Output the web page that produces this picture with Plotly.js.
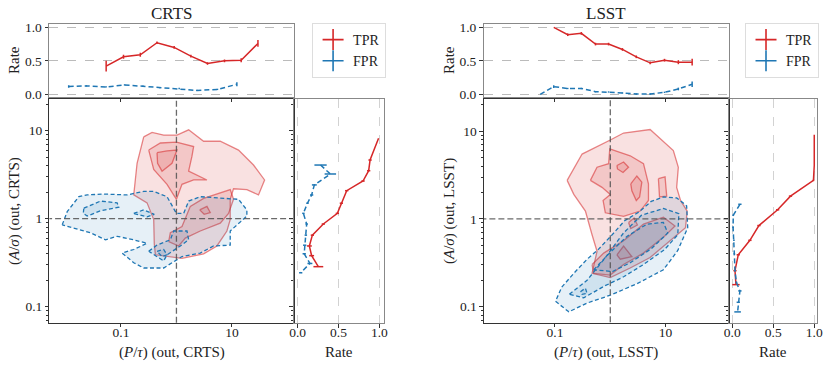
<!DOCTYPE html>
<html>
<head>
<meta charset="utf-8">
<script src="https://cdn.plot.ly/plotly-3.0.1.min.js"></script>
<style>
  body { margin: 0; background: #fff; }
  #chart { width: 830px; height: 368px; }
</style>
</head>
<body>
<div id="chart"></div>
<script>
// ---- rate strips (CRTS) ----
const crtsTopTprX = [0.054, 0.111, 0.223, 0.446, 0.91, 1.82, 3.63, 7.36, 14.7, 29.5];
const crtsTopTpr = [0.42, 0.56, 0.59, 0.77, 0.70, 0.57, 0.46, 0.50, 0.51, 0.76];
const crtsTopTprErr = [0.08, 0.03, 0.03, 0.02, 0.02, 0.02, 0.02, 0.02, 0.03, 0.05];
const crtsTopFprX = [0.0114, 0.0237, 0.054, 0.116, 0.249, 0.50, 1.12, 2.34, 5.5, 12.3];
const crtsTopFpr = [0.117, 0.126, 0.11, 0.14, 0.12, 0.10, 0.087, 0.058, 0.073, 0.15];
const crtsTopFprErr = [0.02, 0.01, 0.01, 0.01, 0.01, 0.01, 0.01, 0.01, 0.01, 0.03];

const crtsSideTprY = [8.2, 4.64, 3.51, 2.68, 2.08, 1.50, 1.15, 0.87, 0.65, 0.49, 0.38, 0.285];
const crtsSideTpr = [0.99, 0.886, 0.869, 0.80, 0.60, 0.535, 0.486, 0.314, 0.18, 0.143, 0.171, 0.253];
const crtsSideTprErr = [0.0, 0.02, 0.02, 0.02, 0.02, 0.02, 0.02, 0.02, 0.02, 0.03, 0.03, 0.06];
const crtsSideFprY = [4.07, 3.22, 2.42, 1.86, 1.50, 1.15, 0.87, 0.65, 0.50, 0.40, 0.31, 0.243];
const crtsSideFpr = [0.28, 0.40, 0.204, 0.171, 0.12, 0.07, 0.11, 0.10, 0.086, 0.08, 0.15, 0.037];
const crtsSideFprErr = [0.075, 0.07, 0.03, 0.02, 0.015, 0.015, 0.015, 0.015, 0.02, 0.02, 0.03, 0.02];

// ---- rate strips (LSST) ----
const lsstTopTprX = [0.095, 0.17, 0.30, 0.54, 0.93, 1.66, 2.95, 5.25, 9.55, 17.0, 30.2];
const lsstTopTpr = [1.0, 0.89, 0.91, 0.75, 0.75, 0.67, 0.56, 0.47, 0.51, 0.48, 0.48];
const lsstTopTprErr = [0.0, 0.02, 0.02, 0.02, 0.02, 0.02, 0.02, 0.02, 0.02, 0.03, 0.05];
const lsstTopFprX = [0.054, 0.095, 0.17, 0.30, 0.54, 0.93, 1.66, 2.95, 5.25, 9.55, 17.0, 30.2];
const lsstTopFpr = [0.0, 0.115, 0.087, 0.087, 0.04, 0.035, 0.02, 0.005, 0.005, 0.03, 0.08, 0.15];
const lsstTopFprErr = [0.0, 0.02, 0.01, 0.01, 0.01, 0.01, 0.01, 0.01, 0.01, 0.01, 0.02, 0.04];

const lsstSideTprY = [9.12, 6.03, 4.07, 2.75, 1.82, 1.27, 0.84, 0.57, 0.39, 0.257, 0.178];
const lsstSideTpr = [1.0, 1.0, 1.0, 0.99, 0.71, 0.553, 0.325, 0.215, 0.073, 0.033, 0.045];
const lsstSideTprErr = [0, 0, 0, 0.01, 0.02, 0.02, 0.02, 0.02, 0.02, 0.02, 0.045];
const lsstSideFprY = [1.47, 1.10, 0.805, 0.57, 0.40, 0.257, 0.19, 0.151, 0.112, 0.087];
const lsstSideFpr = [0.093, 0.012, 0.01, 0.02, 0.025, 0.033, 0.05, 0.093, 0.073, 0.065];
const lsstSideFprErr = [0.02, 0.01, 0.01, 0.01, 0.01, 0.01, 0.01, 0.02, 0.02, 0.04];

// ---- density contours, vertices as [log10(P/tau), log10(A/sigma)] ----
const crtsTprOuter = [[-0.59,0.93],[-0.44,0.98],[-0.23,0.95],[0.01,0.95],[0.22,1.01],[0.49,0.88],[0.79,0.88],[1.12,0.78],[1.39,0.61],[1.59,0.44],[1.48,0.27],[1.27,0.33],[1.03,0.34],[0.97,0.22],[0.97,-0.01],[0.91,-0.14],[0.73,-0.31],[0.49,-0.40],[0.10,-0.45],[-0.17,-0.43],[-0.38,-0.41],[-0.40,-0.28],[-0.41,-0.01],[-0.53,0.18],[-0.77,0.27],[-0.71,0.63]];
const crtsTprMidA = [[-0.50,0.78],[-0.29,0.86],[0.0,0.87],[0.31,0.82],[0.28,0.71],[0.22,0.54],[0.55,0.44],[0.31,0.44],[0.10,0.39],[0.0,0.22],[-0.17,0.39],[-0.41,0.56]];
const crtsTprMidB = [[-0.14,-0.26],[-0.11,-0.16],[0.10,-0.09],[0.25,0.14],[0.49,0.23],[0.97,0.33],[1.03,0.22],[0.94,0.06],[0.79,-0.05],[0.43,-0.14],[0.16,-0.22],[0.04,-0.31]];
const crtsTprInA = [[-0.35,0.75],[-0.17,0.77],[0.01,0.78],[-0.08,0.63],[-0.26,0.54],[-0.34,0.63]];
const crtsTprInB = [[0.42,0.10],[0.55,0.14],[0.61,0.07],[0.50,0.05]];
const crtsFprOuter = [[-2.06,-0.07],[-1.97,0.08],[-1.76,0.25],[-1.61,0.27],[-1.31,0.28],[-0.89,0.27],[-0.59,0.31],[-0.41,0.31],[-0.17,0.25],[0.0,0.06],[0.13,0.06],[0.22,0.20],[0.43,0.25],[1.12,0.22],[1.27,0.10],[1.27,0.03],[0.97,-0.14],[0.97,-0.30],[0.67,-0.31],[0.43,-0.39],[0.10,-0.43],[-0.23,-0.56],[-0.59,-0.56],[-0.77,-0.50],[-0.98,-0.39],[-0.77,-0.35],[-0.53,-0.28],[-0.77,-0.24],[-1.07,-0.20],[-1.28,-0.24],[-1.55,-0.16],[-1.85,-0.11]];
const crtsFprMidA = [[-1.67,0.12],[-1.37,0.20],[-1.07,0.18],[-1.04,0.13],[-1.37,0.09],[-1.61,0.03],[-1.68,0.06]];
const crtsFprMidB = [[-0.77,0.06],[-0.59,0.10],[-0.40,0.05],[-0.53,0.02]];
const crtsFprMidC = [[-0.50,-0.37],[-0.35,-0.30],[-0.11,-0.24],[-0.05,-0.14],[0.19,-0.14],[0.22,-0.24],[0.07,-0.31],[-0.17,-0.41],[-0.23,-0.48],[-0.35,-0.43]];
const crtsFprIn = [[-0.35,-0.37],[-0.23,-0.35],[-0.17,-0.41],[-0.26,-0.43]];

const lsstTprOuter = [[-0.78,0.44],[-0.51,0.74],[0.0,0.90],[0.24,0.98],[0.72,1.02],[1.14,0.78],[1.23,0.59],[1.20,0.36],[1.27,0.21],[1.39,0.09],[1.36,-0.10],[1.08,-0.25],[0.72,-0.44],[0.36,-0.56],[0.0,-0.67],[-0.33,-0.62],[-0.24,-0.37],[-0.33,-0.18],[-0.45,0.09],[-0.66,0.28]];
const lsstTprMidA = [[-0.36,0.44],[-0.24,0.59],[-0.03,0.63],[-0.01,0.80],[0.36,0.72],[0.60,0.63],[0.69,0.40],[0.69,0.21],[0.54,0.09],[0.24,0.03],[-0.09,0.07],[-0.13,0.21],[0.0,0.28],[-0.15,0.36]];
const lsstTprMidB = [[0.87,0.46],[0.99,0.48],[1.02,0.26],[0.89,0.25]];
const lsstTprMidC = [[-0.33,-0.52],[-0.12,-0.39],[0.24,-0.25],[0.60,-0.06],[0.96,0.02],[1.17,-0.08],[0.96,-0.21],[0.60,-0.39],[0.24,-0.52],[0.0,-0.64],[-0.30,-0.62]];
const lsstTprInA = [[0.12,0.61],[0.24,0.65],[0.33,0.59],[0.23,0.53],[0.13,0.57]];
const lsstTprInB = [[0.37,0.40],[0.48,0.49],[0.57,0.42],[0.53,0.25],[0.47,0.21],[0.39,0.32]];
const lsstTprInC = [[0.33,-0.04],[0.43,0.01],[0.49,-0.07],[0.37,-0.11]];
const lsstTprInD = [[0.12,-0.41],[0.24,-0.31],[0.39,-0.43],[0.18,-0.46]];
const lsstFprOuter = [[-0.99,-0.94],[-0.75,-1.06],[-0.42,-0.96],[0.0,-0.87],[0.48,-0.74],[0.96,-0.58],[1.22,-0.36],[1.40,-0.10],[1.38,0.15],[1.20,0.24],[0.96,0.25],[0.74,0.20],[0.52,0.08],[0.26,-0.02],[0.02,-0.19],[-0.22,-0.35],[-0.42,-0.46],[-0.66,-0.62],[-0.88,-0.78]];
const lsstFprMid = [[-0.74,-0.86],[-0.42,-0.70],[-0.10,-0.45],[0.24,-0.16],[0.56,0.04],[0.96,0.12],[1.24,0.06],[1.22,-0.18],[0.98,-0.35],[0.60,-0.52],[0.24,-0.66],[-0.12,-0.77],[-0.48,-0.90]];
const lsstFprInA = [[-0.30,-0.58],[0.0,-0.38],[0.30,-0.20],[0.66,-0.06],[0.96,-0.04],[1.04,-0.16],[0.74,-0.34],[0.36,-0.50],[0.04,-0.60]];
const lsstFprInB = [[-0.54,-0.83],[-0.45,-0.79],[-0.42,-0.85],[-0.51,-0.86]];

const rateTicks = [0, 0.5, 1];
const rateTickText = ['0.0', '0.5', '1.0'];
const mainXTicks = [0.1, 10];
const mainYTicks = [0.1, 1, 10];
const mainYMinor = [0.07, 0.08, 0.09, 0.2, 0.3, 0.4, 0.5, 0.6, 0.7, 0.8, 0.9, 2, 3, 4, 5, 6, 7, 8, 9, 20];

const RED = '#d62728';
const BLUE = '#1f77b4';
const SERIF = 'Liberation Serif, Times New Roman, serif';

function contour(pts, ax, kind) {
    const xs = pts.map(p => Math.pow(10, p[0]));
    const ys = pts.map(p => Math.pow(10, p[1]));
    xs.push(xs[0]);
    ys.push(ys[0]);
    const isTpr = kind === 'tpr';
    return {
        x: xs, y: ys, xaxis: ax[0], yaxis: ax[1],
        type: 'scatter', mode: 'lines', fill: 'toself',
        fillcolor: isTpr ? 'rgba(214,39,40,0.14)' : 'rgba(31,119,180,0.11)',
        line: isTpr
            ? { color: 'rgba(214,39,40,0.55)', width: 1.3 }
            : { color: BLUE, width: 1.3, dash: '4px,2.5px' },
        hoverinfo: 'skip', showlegend: false
    };
}

function topRate(x, y, err, ax, color, dashed) {
    return {
        x: x, y: y, xaxis: ax[0], yaxis: ax[1], type: 'scatter', mode: 'lines',
        line: { color: color, width: 1.5, dash: dashed ? '5px,3px' : 'solid' },
        error_y: { type: 'data', array: err, visible: true, width: 0, thickness: 1.5, color: color },
        showlegend: false
    };
}

function sideRate(x, y, err, ax, color, dashed) {
    return {
        x: x, y: y, xaxis: ax[0], yaxis: ax[1], type: 'scatter', mode: 'lines',
        line: { color: color, width: 1.5, dash: dashed ? '5px,3px' : 'solid' },
        error_x: { type: 'data', array: err, visible: true, width: 0, thickness: 1.5, color: color },
        showlegend: false
    };
}

function refLines(ax) {
    const style = { color: 'rgba(80,80,80,0.85)', width: 1.3, dash: '6px,3px' };
    return [
        { x: [1, 1], y: [0.01, 100], xaxis: ax[0], yaxis: ax[1], mode: 'lines', line: style, showlegend: false, hoverinfo: 'skip' },
        { x: [0.001, 1000], y: [1, 1], xaxis: ax[0], yaxis: ax[1], mode: 'lines', line: style, showlegend: false, hoverinfo: 'skip' }
    ];
}

function legendEntry(name, color, legend) {
    return {
        x: [null], y: [null], type: 'scatter', mode: 'markers', name: name, legend: legend,
        marker: { symbol: 'cross-thin-open', size: 15, color: color, line: { color: color, width: 1.6 } }
    };
}

const data = [];
const L = ['x', 'y'], LT = ['x2', 'y2'], LS = ['x3', 'y3'];
const R = ['x4', 'y4'], RT = ['x5', 'y5'], RS = ['x6', 'y6'];

for (const p of [crtsTprOuter, crtsTprMidA, crtsTprMidB, crtsTprInA, crtsTprInB]) data.push(contour(p, L, 'tpr'));
for (const p of [crtsFprOuter, crtsFprMidA, crtsFprMidB, crtsFprMidC, crtsFprIn]) data.push(contour(p, L, 'fpr'));
data.push(...refLines(L));
data.push(topRate(crtsTopTprX, crtsTopTpr, crtsTopTprErr, LT, RED, false));
data.push(topRate(crtsTopFprX, crtsTopFpr, crtsTopFprErr, LT, BLUE, true));
data.push(sideRate(crtsSideTpr, crtsSideTprY, crtsSideTprErr, LS, RED, false));
data.push(sideRate(crtsSideFpr, crtsSideFprY, crtsSideFprErr, LS, BLUE, true));

for (const p of [lsstTprOuter, lsstTprMidA, lsstTprMidB, lsstTprMidC, lsstTprInA, lsstTprInB, lsstTprInC, lsstTprInD]) data.push(contour(p, R, 'tpr'));
for (const p of [lsstFprOuter, lsstFprMid, lsstFprInA, lsstFprInB]) data.push(contour(p, R, 'fpr'));
data.push(...refLines(R));
data.push(topRate(lsstTopTprX, lsstTopTpr, lsstTopTprErr, RT, RED, false));
data.push(topRate(lsstTopFprX, lsstTopFpr, lsstTopFprErr, RT, BLUE, true));
data.push(sideRate(lsstSideTpr, lsstSideTprY, lsstSideTprErr, RS, RED, false));
data.push(sideRate(lsstSideFpr, lsstSideFprY, lsstSideFprErr, RS, BLUE, true));

data.push(legendEntry('TPR', RED, 'legend'), legendEntry('FPR', BLUE, 'legend'));
data.push(legendEntry('TPR', RED, 'legend2'), legendEntry('FPR', BLUE, 'legend2'));

const tickFont = { family: SERIF, size: 13.5, color: '#222' };
const base = { showgrid: false, zeroline: false, showline: true, ticks: 'outside', ticklen: 3.5, tickcolor: '#333', tickfont: tickFont };
const mainLine = { linecolor: '#333', linewidth: 1, mirror: true };
const stripLine = { linecolor: '#888', linewidth: 1.4, mirror: true };

const mainX = { ...base, ...mainLine, type: 'log', tickvals: mainXTicks, ticktext: ['0.1', '10'], ticklabelstandoff: -7 };
const mainY = {
    ...base, ...mainLine, type: 'log', tickvals: mainYTicks, ticktext: ['0.1', '1', '10'],
    minor: { tickvals: mainYMinor, ticks: 'outside', ticklen: 2, tickcolor: '#333' }
};
const topX = { ...base, ...stripLine, type: 'log', tickvals: mainXTicks, showticklabels: false };
const topY = { ...base, ...stripLine, tickvals: rateTicks, ticktext: rateTickText, showgrid: true, gridcolor: '#aaa', griddash: 'dash', gridwidth: 0.8 };
const sideX = { ...base, ...stripLine, tickvals: rateTicks, ticktext: rateTickText, showgrid: true, gridcolor: '#d2d2d2', griddash: 'dash', gridwidth: 1, ticklabelstandoff: -7 };
const sideY = { ...mainY, ...stripLine, showticklabels: false };

const yMain = [0.1223, 0.7310], yTop = [0.7364, 0.9348];

function label(text, x, y, angle) {
    return {
        text: text, x: x, y: y, xref: 'paper', yref: 'paper', xanchor: 'center', yanchor: 'middle',
        showarrow: false, textangle: angle || 0, font: { size: 15 }
    };
}

const layout = {
    width: 830, height: 368,
    margin: { l: 0, r: 0, t: 0, b: 0 },
    paper_bgcolor: '#fff', plot_bgcolor: 'rgba(0,0,0,0)',
    font: { family: SERIF, color: '#222' },
    xaxis: { ...mainX, domain: [0.0596, 0.3542], range: [-2.29, 2.12], anchor: 'y' },
    yaxis: { ...mainY, domain: yMain, range: [-1.185, 1.36], anchor: 'x' },
    xaxis2: { ...topX, domain: [0.0596, 0.3542], range: [-2.29, 2.12], anchor: 'y2' },
    yaxis2: { ...topY, domain: yTop, range: [-0.04, 1.05], anchor: 'x2' },
    xaxis3: { ...sideX, domain: [0.3542, 0.4627], range: [-0.045, 1.057], anchor: 'y3' },
    yaxis3: { ...sideY, domain: yMain, range: [-1.185, 1.36], anchor: 'x3' },
    xaxis4: { ...mainX, domain: [0.5831, 0.8783], range: [-2.284, 2.146], anchor: 'y4' },
    yaxis4: { ...mainY, domain: yMain, range: [-1.187, 1.368], anchor: 'x4' },
    xaxis5: { ...topX, domain: [0.5831, 0.8783], range: [-2.284, 2.146], anchor: 'y5' },
    yaxis5: { ...topY, domain: yTop, range: [-0.04, 1.05], anchor: 'x5' },
    xaxis6: { ...sideX, domain: [0.8783, 0.9843], range: [-0.04, 1.033], anchor: 'y6' },
    yaxis6: { ...sideY, domain: yMain, range: [-1.187, 1.368], anchor: 'x6' },
    legend: {
        x: 0.376, y: 0.9375, xanchor: 'left', yanchor: 'top',
        bgcolor: '#fff', bordercolor: '#ddd', borderwidth: 1,
        font: { family: SERIF, size: 14, color: '#222' }, itemwidth: 30, tracegroupgap: 2
    },
    legend2: {
        x: 0.8976, y: 0.9375, xanchor: 'left', yanchor: 'top',
        bgcolor: '#fff', bordercolor: '#ddd', borderwidth: 1,
        font: { family: SERIF, size: 14, color: '#222' }, itemwidth: 30, tracegroupgap: 2
    },
    annotations: [
        { ...label('CRTS', 0.207, 0.963), font: { size: 17 } },
        { ...label('LSST', 0.730, 0.963), font: { size: 17 } },
        label('Rate', 0.0169, 0.837, -90),
        label('Rate', 0.541, 0.837, -90),
        label('(<i>A</i>/<i>σ</i>) (out, CRTS)', 0.0169, 0.4266, -90),
        label('(<i>A</i>/<i>σ</i>) (out, LSST)', 0.541, 0.4266, -90),
        label('(<i>P</i>/<i>τ</i>) (out, CRTS)', 0.207, 0.043),
        label('(<i>P</i>/<i>τ</i>) (out, LSST)', 0.730, 0.043),
        label('Rate', 0.4085, 0.043),
        label('Rate', 0.9313, 0.043)
    ]
};

Plotly.newPlot('chart', data, layout, { displayModeBar: false, staticPlot: true });
</script>
</body>
</html>
